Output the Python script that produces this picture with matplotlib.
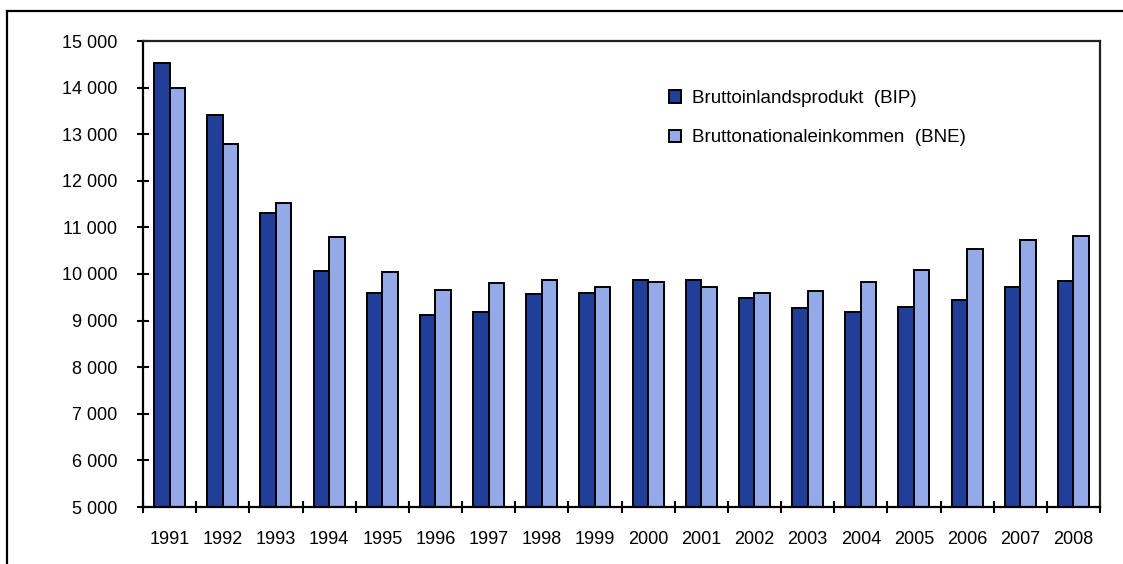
import numpy as np
import matplotlib.pyplot as plt
from matplotlib.ticker import FuncFormatter, MultipleLocator
from matplotlib.lines import Line2D

plt.rcParams['font.family'] = ['Liberation Sans', 'DejaVu Sans']

# data
years = ['1991', '1992', '1993', '1994', '1995', '1996', '1997', '1998', '1999',
         '2000', '2001', '2002', '2003', '2004', '2005', '2006', '2007', '2008']
bip = [14520, 13405, 11310, 10070, 9585, 9125, 9175, 9565, 9585,
       9870, 9870, 9485, 9270, 9175, 9285, 9440, 9725, 9845]
bne = [13990, 12780, 11525, 10795, 10035, 9655, 9805, 9870, 9725,
       9830, 9725, 9585, 9635, 9830, 10085, 10535, 10735, 10820]
labels = ['Bruttoinlandsprodukt  (BIP)', 'Bruttonationaleinkommen  (BNE)']
colors = ['#213f99', '#93a9e8']

fig = plt.figure(figsize=(11.23, 5.64), dpi=100)
ax = fig.add_axes([143 / 1123, 1 - 507 / 564, 957 / 1123, 466 / 564])

x = np.arange(len(years))
w = 0.29
ax.bar(x - w / 2, bip, w, color=colors[0], edgecolor='black', linewidth=1.4,
       label=labels[0])
ax.bar(x + w / 2, bne, w, color=colors[1], edgecolor='black', linewidth=1.4,
       label=labels[1])

ax.set_xlim(-0.5, len(years) - 0.5)
ax.set_ylim(5000, 15000)
ax.yaxis.set_major_locator(MultipleLocator(1000))
ax.yaxis.set_major_formatter(FuncFormatter(lambda v, p: f'{int(v):,}'.replace(',', ' ')))

# x ticks sit between the categories, labels in the middle
ax.set_xticks(np.arange(-0.5, len(years), 1.0))
ax.set_xticklabels([])
ax.set_xticks(x, minor=True)
ax.set_xticklabels(years, minor=True)
ax.tick_params(axis='x', which='minor', length=0, pad=17, labelsize=13)
ax.tick_params(axis='x', which='major', direction='inout', length=9, width=1.5)
ax.tick_params(axis='y', direction='inout', length=9, width=1.5, pad=14, labelsize=13)

for s in ax.spines.values():
    s.set_linewidth(1.6)
ax.spines['top'].set_color('#222222')
ax.spines['right'].set_color('#222222')

ax.legend(loc='upper left', bbox_to_anchor=((669 - 143) / 957, (507 - 90) / 466),
          frameon=False, fontsize=13.5, handlelength=0.65, handleheight=0.65,
          handletextpad=0.6, labelspacing=1.2, borderpad=0, borderaxespad=0)

# outer frame of the figure (top and left edges visible)
fig.add_artist(Line2D([7 / 1123, 7 / 1123], [0, 1 - 11 / 564], color='black',
                      linewidth=1.6, transform=fig.transFigure))
fig.add_artist(Line2D([7 / 1123, 1], [1 - 11 / 564, 1 - 11 / 564], color='black',
                      linewidth=1.6, transform=fig.transFigure))

fig.savefig('out.png', dpi=100)
